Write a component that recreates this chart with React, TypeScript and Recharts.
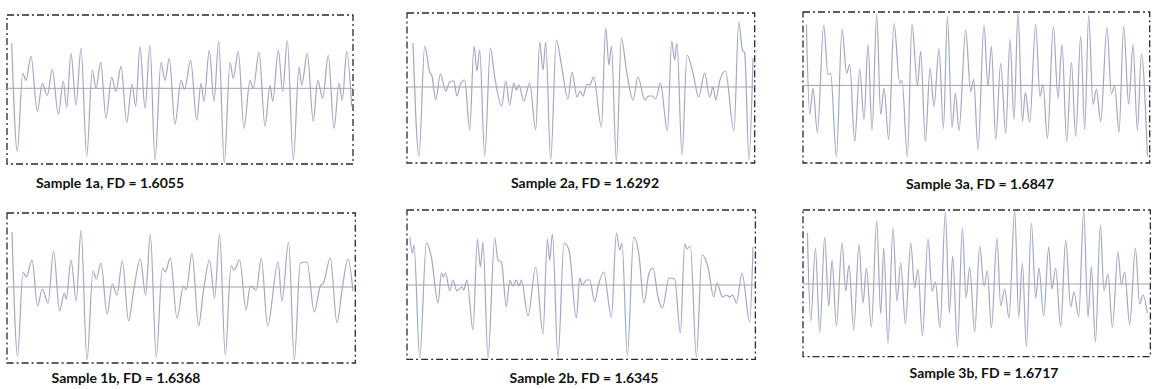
import React from "react";
import { LineChart, Line, XAxis, YAxis, ReferenceLine, ReferenceArea } from "recharts";

// Profile samples: [position along profile, height]
const sample1a: [number, number][] = [
  [4.7,45],[10.3,-63],[15.7,15],[19,8],[24,32],[30.3,-23],[35.3,5],[40.3,-7],[45.3,19],[51.3,-26],[56.3,7],[59.7,-19],[64,35],[69,-17],[74,40],[79.7,-68],[85.3,18],[89,0],[93.7,26],[99,-30],[104.7,11],[109,-3],[114,22],[119.7,-34],[125,4],[128.7,-18],[133,42],[138,-20],[143,43],[148,-72],[154,26],[158,8],[162.3,30],[168,-36],[174,8],[177.5,-1],[183.7,28],[189.7,-32],[194,5],[197,-13],[202.3,38],[207,-13],[211.7,47],[217.3,-75],[223,26],[226.3,10],[231.3,37],[237,-40],[243,8],[246.3,0],[252,36],[258,-38],[263,3],[265.7,-13],[271.3,38],[275.7,-3],[280.3,48],[286.3,-72],[292,21],[294.7,3],[300.3,35],[306.3,-33],[310.7,8],[315.7,-10],[321.3,33],[327,-40],[332,5],[335.3,-12],[339.7,37],[344.7,-18],
];
const sample1b: [number, number][] = [
  [5,55],[10.6,-69],[16,15],[19.3,10],[25,27],[30.6,-19],[35.3,-2],[41,-16],[46.6,36],[52.6,-24],[57.3,-6],[59.3,-12],[64,27],[69.3,-14],[74,57],[80,-73],[86,16],[89.3,8],[94,24],[100,-27],[105.3,3],[110,-8],[115.3,26],[121.6,-34],[126.6,-4],[133.3,28],[138.6,-8],[143.3,53],[149.3,-70],[155.3,19],[158.3,15],[163.3,29],[170,-31],[176.6,1],[179.3,-3],[185,34],[191.6,-39],[196.3,-5],[202.6,27],[207.6,-11],[212.6,53],[218.3,-68],[224,21],[227.3,17],[232.6,27],[239,-23],[243.3,1],[249.3,-3],[254.3,29],[260.6,-39],[271,25],[275,-14],[281.6,45],[287.3,-73],[293.3,24],[300,25],[307.3,-25],[313.3,1],[316.5,4],[323.3,29],[330,-36],[335,-3],[341,28],[346,-4],
];
const sample2a: [number, number][] = [
  [6,44],[12,-69],[17.7,41],[22.7,15],[25,11],[28.7,-13],[33.4,13],[38.7,-4],[42.7,5],[46.7,6],[50,-9],[53.4,3],[57.7,7],[62.7,-43],[67,41],[70,16],[72.7,37],[77.7,-69],[83.4,39],[87.7,10],[94.7,-19],[98.7,6],[102.7,-18],[106.7,4],[109.4,-3],[112,2],[116.7,-14],[122.7,4],[128.7,-43],[132.7,45],[136,17],[138.7,45],[143.7,-73],[149.4,47],[154.4,22],[161,-12],[165,15],[170,-10],[173.2,-4],[176,-9],[180,3],[182.7,2],[186.7,10],[194.4,-40],[198.7,59],[202,22],[204.4,41],[209.4,-74],[214.4,49],[219.4,17],[226,-13],[231,10],[237.7,-13],[241.7,-9],[245.7,-9],[248.7,-12],[253.4,4],[260.4,-44],[264.7,46],[267.7,27],[270,44],[275,-68],[280,32],[286,14],[291.7,-10],[297.7,14],[302.7,-10],[306,0],[308.7,-13],[312.7,6],[318.4,16],[327,-44],[331.7,65],[335.4,37],[337.7,34],[342,-73],[346,29],
];
const sample2b: [number, number][] = [
  [2.7,48],[5.4,32],[7,40],[12.7,-73],[19.4,42],[24.4,28],[31,-18],[34.4,12],[36.2,8],[38.7,12],[42.7,-6],[46,5],[50,-6],[54.7,-2],[56.7,-5],[60,5],[66,-45],[70.4,46],[73.4,18],[76,43],[81,-73],[87.7,47],[91,25],[94.4,23],[99.4,-22],[102.7,5],[106,-1],[109.4,5],[112,-1],[114.4,5],[121,-31],[128.7,18],[136,-49],[140.4,46],[142.7,25],[145.4,51],[151,-73],[157,42],[162,35],[169.4,-33],[172.7,7],[175.4,0],[179.4,5],[182.7,5],[187.7,-17],[191,-2],[196.7,13],[204.4,-32],[209.4,52],[212.7,35],[215,42],[220.4,-70],[226.7,48],[232,30],[237,-18],[242,12],[246,17],[251,-12],[255.4,-23],[262,7],[267.7,6],[273.4,-48],[277.7,41],[280,36],[283.4,39],[289.4,-72],[295,30],[301,18],[306.7,-12],[310,2],[315.4,-12],[319.7,-10],[322.7,-12],[325.7,-10],[329.4,-18],[335,12],[342.7,-37],[346,38],
];
const sample3a: [number, number][] = [
  [3.4,61],[6.7,-29],[10,-3],[14.4,-47],[20.7,60],[25,11],[27.7,12],[33.4,-71],[39,56],[43.7,12],[46.7,21],[51.7,-56],[56.7,16],[61,-34],[65,41],[69,-45],[73.7,71],[77.7,-29],[81,-3],[85.7,-54],[91,62],[96.7,2],[99,5],[104.4,-71],[109,61],[114.4,0],[117.7,34],[122.4,-56],[127,17],[131,-21],[136,37],[140.4,-43],[144.4,69],[149,-42],[152.4,-8],[156,-45],[162.7,55],[167.7,-6],[170.7,6],[175,-64],[181,60],[185,-1],[188.4,39],[192.7,-54],[197.7,22],[202.7,-48],[207,46],[211,-34],[215,73],[219.4,-36],[222.4,-7],[226.7,-37],[232.7,61],[237,-11],[240,1],[244.4,-53],[250.4,59],[255,-13],[259,41],[263.7,-56],[268.4,23],[272.7,-51],[277.7,49],[281.7,-44],[285.7,70],[290,-19],[293.4,-4],[297.7,-36],[304,58],[308.4,-8],[311.7,-1],[316,-47],[320.7,59],[325.7,-19],[330,41],[334.4,-45],[338.4,31],[344.4,-71],
];
const sample3b: [number, number][] = [
  [4.4,51],[7.7,-37],[12.4,36],[16.7,-48],[21.7,47],[25.7,-22],[29,24],[33.4,-42],[39,41],[42.7,-7],[46,19],[50.7,-46],[56,40],[60,-19],[63.4,16],[68.4,-43],[73.7,63],[77.7,-30],[80.7,36],[85,-59],[90,56],[94,-17],[97.7,21],[102.4,-40],[107.7,41],[111.7,-4],[115,15],[119.4,-52],[125,45],[129,-7],[132.4,2],[137,-44],[142.4,72],[146.4,-29],[149.7,28],[154.4,-63],[159.4,56],[163,-14],[166.7,17],[171.7,-48],[176.7,38],[181,-2],[184.4,13],[188.4,-44],[194,46],[197.7,-22],[201.7,-5],[206,-34],[211.7,74],[215.7,-33],[219.4,21],[223.4,-63],[228.4,61],[232.7,-14],[236,16],[240.7,-32],[245.7,37],[249,-5],[252.7,16],[257.7,-43],[262.7,44],[267.7,-23],[271,-8],[275.7,-33],[280.7,73],[285,-33],[288.4,17],[292.4,-58],[297.4,59],[301,-7],[305,10],[309.4,-43],[315,32],[318.4,-1],[321.7,12],[326.7,-41],[332.4,36],[336.7,-20],[340,-11],[344.4,-29],
];

const titles = [
  "Sample 1a, FD = 1.6055",
  "Sample 2a, FD = 1.6292",
  "Sample 3a, FD = 1.6847",
  "Sample 1b, FD = 1.6368",
  "Sample 2b, FD = 1.6345",
  "Sample 3b, FD = 1.6717",
];

// layout: box left, top, width, height, range above zero, range below zero, title centre x, title y
const panels = [
  { data: sample1a, left: 7, top: 15, w: 346, h: 149, up: 73.3, down: 75.7, tx: 110, ty: 183 },
  { data: sample2a, left: 407.3, top: 13.3, w: 347.7, h: 150, up: 74, down: 76, tx: 585, ty: 183 },
  { data: sample3a, left: 803.3, top: 12.3, w: 346.7, h: 151, up: 73.4, down: 77.6, tx: 980, ty: 184 },
  { data: sample1b, left: 6.7, top: 213.3, w: 348.3, h: 150, up: 74, down: 76, tx: 126, ty: 378 },
  { data: sample2b, left: 407.3, top: 210, w: 348.4, h: 149.3, up: 75, down: 74.3, tx: 584, ty: 378 },
  { data: sample3b, left: 803.3, top: 210, w: 347.4, h: 146.7, up: 74, down: 72.7, tx: 984, ty: 373 },
];

const PAD = 2;

function Panel({ p, title }: { p: typeof panels[number]; title: string }) {
  const rows = p.data.map(([x, y]) => ({ x, y }));
  return (
    <>
      <div style={{ position: "absolute", left: p.left - PAD, top: p.top - PAD }}>
        <LineChart
          width={p.w + PAD * 2}
          height={p.h + PAD * 2}
          data={rows}
          margin={{ top: PAD, right: PAD, bottom: PAD, left: PAD }}
        >
          <XAxis type="number" dataKey="x" domain={[0, p.w]} hide />
          <YAxis type="number" domain={[-p.down, p.up]} hide />
          <ReferenceArea
            x1={0}
            x2={p.w}
            y1={-p.down}
            y2={p.up}
            fill="none"
            fillOpacity={0}
            stroke="#2a2a2a"
            strokeWidth={1.3}
            strokeDasharray="7 3 2 3"
            ifOverflow="visible"
          />
          <ReferenceLine y={0} stroke="#a89f9f" strokeWidth={1} ifOverflow="visible" />
          <Line
            type="monotone"
            dataKey="y"
            stroke="#a3a8c6"
            strokeWidth={1.2}
            dot={false}
            isAnimationActive={false}
          />
        </LineChart>
      </div>
      <div
        style={{
          position: "absolute",
          left: p.tx - 100,
          width: 200,
          top: p.ty - 9,
          textAlign: "center",
          fontFamily: "Lato, 'Open Sans', sans-serif",
          fontWeight: 700,
          fontSize: 14,
          lineHeight: "18px",
          color: "#111",
          whiteSpace: "nowrap",
        }}
      >
        {title}
      </div>
    </>
  );
}

export default function App() {
  return (
    <div style={{ position: "absolute", left: 0, top: 0, width: 1156, height: 389, background: "#fff", overflow: "hidden" }}>
      {panels.map((p, i) => (
        <Panel key={i} p={p} title={titles[i]} />
      ))}
    </div>
  );
}
